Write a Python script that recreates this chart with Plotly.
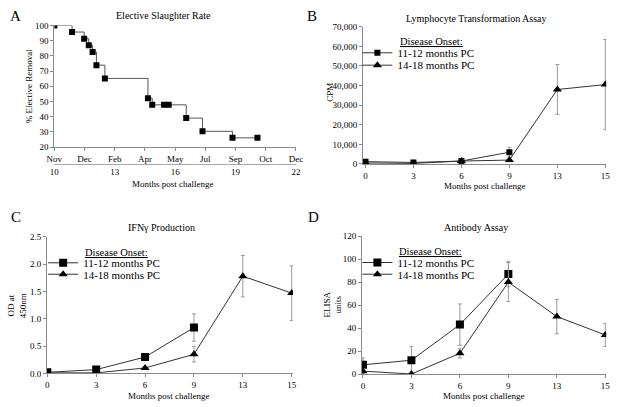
import plotly.graph_objects as go

# ---------------- Data ----------------
# Panel A: elective slaughter rate (step curve)
a_months = [10.0, 10.88, 11.48, 11.71, 11.90, 12.09, 12.51, 14.65, 14.86, 15.45, 15.68, 16.55, 17.36, 18.85, 20.09]
a_removal = [100, 95.7, 91.3, 87.0, 82.6, 73.9, 65.2, 52.2, 47.8, 47.8, 47.8, 39.1, 30.4, 26.1, 26.1]
a_month_ticks = [10, 11.5, 13, 14.5, 16, 17.5, 19, 20.5, 22]
a_month_labels = ["Nov", "Dec", "Feb", "Apr", "May", "Jul", "Sep", "Oct", "Dec"]
a_pc_ticks = [10, 13, 16, 19, 22]

# Panels B-D: time points (months post challenge)
timepoints = ["0", "3", "6", "9", "13", "15"]
series_names = ["11-12 months PC", "14-18 months PC"]

b_early = [1200, 800, 1500, 6000]
b_early_err = [600, 500, 600, 2500]
b_late = [500, 300, 1500, 2000, 38000, 40500]
b_late_err = [400, 300, 800, 500, 12700, 23000]

c_early = [0.02, 0.07, 0.30, 0.84]
c_early_err = [0.01, 0.02, 0.05, 0.25]
c_late = [0.01, 0.01, 0.10, 0.35, 1.78, 1.47]
c_late_err = [0.01, 0.01, 0.02, 0.14, 0.38, 0.50]

d_early = [8, 12, 43, 87]
d_early_err = [6, 12, 18, 11]
d_late = [2.5, 0, 18, 80, 50, 34]
d_late_err = [2, 0, 4, 17, 15, 10]

# ---------------- Styling helpers ----------------
W, H = 624, 407
FONT = "Liberation Serif"
AXC = "#8a8a8a"
LINEC = "#333333"
ERRC = "#9a9a9a"


def px(x):
    return x / W


def py(y):
    return 1 - y / H


fig = go.Figure()

# Panel A
fig.add_trace(go.Scatter(
    x=a_months, y=a_removal, mode="lines+markers", line_shape="hv",
    line=dict(color="#555555", width=1),
    marker=dict(symbol="square", size=6, color="black"),
    xaxis="x", yaxis="y", showlegend=False, hoverinfo="skip"))
# same data on the secondary (months post challenge) axis, invisible, so that axis is drawn
fig.add_trace(go.Scatter(
    x=a_months, y=a_removal, mode="markers", marker=dict(opacity=0),
    xaxis="x5", yaxis="y", showlegend=False, hoverinfo="skip"))


def add_pair(early, early_err, late, late_err, xa, ya, leg1, leg2, sq_size, tri_size):
    fig.add_trace(go.Scatter(
        x=list(range(len(early))), y=early, mode="lines+markers", name=series_names[0],
        line=dict(color=LINEC, width=1),
        marker=dict(symbol="square", size=sq_size, color="black"),
        error_y=dict(type="data", array=early_err, color=ERRC, thickness=1, width=2),
        xaxis=xa, yaxis=ya, legend=leg1, showlegend=True))
    fig.add_trace(go.Scatter(
        x=list(range(len(late))), y=late, mode="lines+markers", name=series_names[1],
        line=dict(color=LINEC, width=1),
        marker=dict(symbol="triangle-up", size=tri_size, color="black"),
        error_y=dict(type="data", array=late_err, color=ERRC, thickness=1, width=2),
        xaxis=xa, yaxis=ya, legend=leg2, showlegend=True))


add_pair(b_early, b_early_err, b_late, b_late_err, "x2", "y2", "legend", "legend2", 6, 8)
add_pair(c_early, c_early_err, c_late, c_late_err, "x3", "y3", "legend3", "legend4", 8, 8)
add_pair(d_early, d_early_err, d_late, d_late_err, "x4", "y4", "legend5", "legend6", 8, 8)

tickfont = dict(family=FONT, size=9, color="black")
common = dict(showline=True, linecolor=AXC, linewidth=1, showgrid=False, zeroline=False,
              ticks="outside", ticklen=3, tickcolor=AXC, tickfont=tickfont)

cat_x = dict(tickmode="array", tickvals=list(range(len(timepoints))), ticktext=timepoints)

layout = dict(
    width=W, height=H, margin=dict(l=0, r=0, t=0, b=0),
    plot_bgcolor="white", paper_bgcolor="white",
    font=dict(family=FONT, color="black"),
    # Panel A
    xaxis=dict(domain=[px(47.5), px(295)], range=[10, 22], anchor="y",
               tickmode="array", tickvals=a_month_ticks, ticktext=a_month_labels, **common),
    yaxis=dict(domain=[py(145.7), py(21)], range=[20, 100], dtick=10, anchor="x", **common),
    xaxis5=dict(overlaying="x", anchor="free", position=py(162.5), range=[10, 22],
                tickmode="array", tickvals=a_pc_ticks, showline=True, linecolor="#aaaaaa",
                showgrid=False, zeroline=False, ticks="", tickfont=tickfont, side="bottom"),
    # Panel B
    xaxis2=dict(domain=[px(363.7), px(613)], range=[-0.053, 5.02], anchor="y2", **cat_x, **common),
    yaxis2=dict(domain=[py(163), py(22.3)], range=[0, 70000], dtick=10000, tickformat=",d",
                anchor="x2", **common),
    # Panel C
    xaxis3=dict(domain=[px(40), px(292)], range=[-0.006, 5.026], anchor="y3", **cat_x, **common),
    yaxis3=dict(domain=[py(377.7), py(237.7)], range=[0, 2.5], dtick=0.5, tickformat=".1f",
                anchor="x3", **common),
    # Panel D
    xaxis4=dict(domain=[px(362.7), px(613)], range=[-0.02, 5.02], anchor="y4", **cat_x, **common),
    yaxis4=dict(domain=[py(378.3), py(237)], range=[0, 120], dtick=20, anchor="x4", **common),
)

legfont = dict(family=FONT, size=11, color="black")
leg_pos = {
    "legend": (398, 49), "legend2": (398, 61.7),
    "legend3": (76, 264.3), "legend4": (76, 276),
    "legend5": (398, 264), "legend6": (398, 276),
}
for k, (tx, ty) in leg_pos.items():
    layout[k] = dict(x=px(tx - 40), y=py(ty), xanchor="left", yanchor="middle",
                     bgcolor="rgba(0,0,0,0)", borderwidth=0, font=legfont,
                     itemwidth=30, itemsizing="trace")

ann = []


def text(x, y, s, size, xanchor="center", angle=0):
    ann.append(dict(x=px(x), y=py(y), xref="paper", yref="paper", text=s, showarrow=False,
                    xanchor=xanchor, yanchor="middle", textangle=angle,
                    font=dict(family=FONT, size=size, color="black")))


# Panel letters
text(8, 11, "A", 15)
text(311, 11, "B", 15)
text(8, 217, "C", 15)
text(313, 217, "D", 15)
# Titles
text(159, 11, "Elective Slaughter Rate", 10)
text(480, 14, "Lymphocyte Transformation Assay", 10)
text(157, 228, "IFN\u03b3 Production", 10)
text(480, 228, "Antibody Assay", 10)
# X titles
text(169, 183, "Months post challenge", 9)
text(489, 185.5, "Months post challenge", 9)
text(165, 400.5, "Months post challenge", 9)
text(488, 400.5, "Months post challenge", 9)
# Y titles
text(21.7, 83, "% Elective Removal", 9, angle=-90)
text(330, 90, "CPM", 9, angle=-90)
text(10, 308, "OD at<br>450nm", 9, angle=-90)
text(333, 307, "ELISA<br>units", 9, angle=-90)
# Legend headers
text(400, 37.3, "<u>Disease Onset:</u>", 10.5, xanchor="left")
text(77, 253.3, "<u>Disease Onset:</u>", 10.5, xanchor="left")
text(399, 252.3, "<u>Disease Onset:</u>", 10.5, xanchor="left")

layout["annotations"] = ann
fig.update_layout(**layout)

fig.write_html("out.html", config={"displayModeBar": False},
               post_script="document.body.style.margin='0';document.body.style.overflow='hidden';")
